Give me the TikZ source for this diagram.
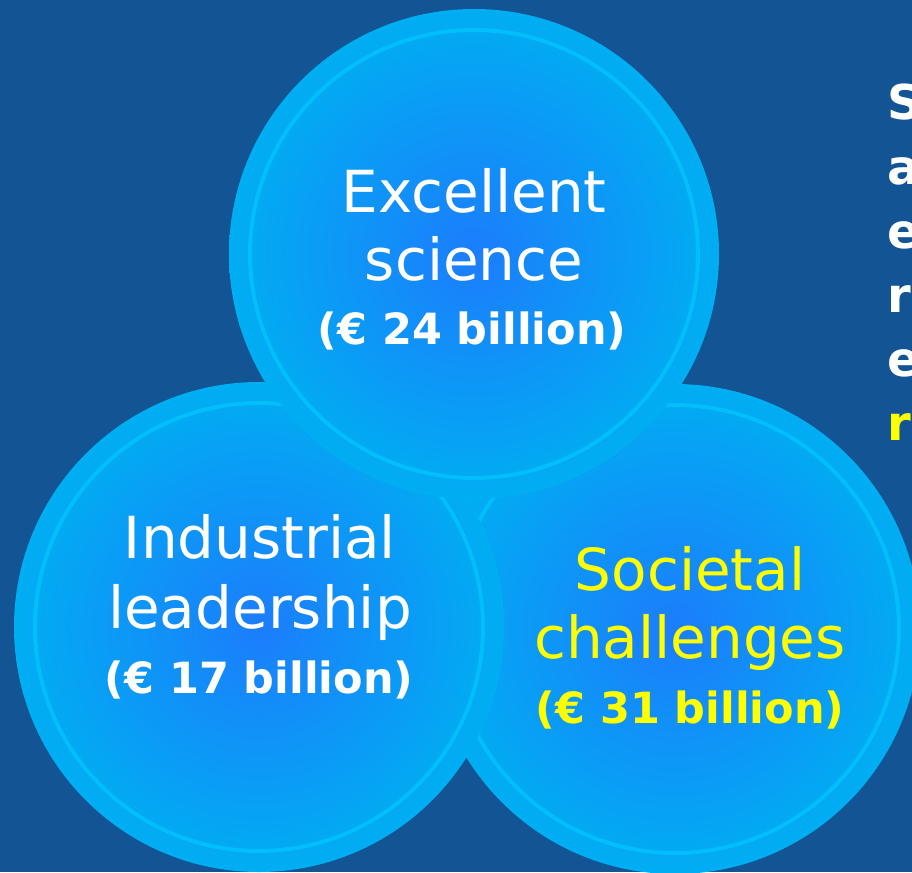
\documentclass[tikz,border=0pt]{standalone}
\usepackage{fontspec}
\setmainfont{DejaVu Sans}
\definecolor{bg}{RGB}{18,84,148}
\definecolor{ctr}{RGB}{28,125,252}
\definecolor{edgec}{RGB}{0,174,242}
\definecolor{rimc}{RGB}{0,200,255}
\definecolor{gold}{RGB}{255,255,0}
\begin{document}
\begin{tikzpicture}[x=1pt, y=-1pt, line join=round, line cap=round,
		bubble/.style={circle, minimum size=490pt, inner sep=0pt, shade, inner color=ctr, outer color=edgec},
		rim/.style={draw=rimc, line width=4pt, opacity=0.7},
		plain/.style={anchor=base, inner sep=0pt, text=white, font=\fontsize{58}{60}\selectfont},
		money/.style={anchor=base, inner sep=0pt, text=white, font=\fontsize{43}{45}\selectfont\bfseries},
		initial/.style={anchor=base west, inner sep=0pt, text=white, font=\fontsize{48}{50}\selectfont\bfseries}]
	\fill[bg] (0,0) rectangle (912,872);
	\useasboundingbox (0,0) rectangle (912,872);
	% the three pillars
	\foreach \n/\cx/\cy in {soc/675/629, ind/259/627, sci/474/254}{
		\node[bubble] (\n) at (\cx,\cy) {};
		\draw[rim] (\n.center) circle[radius=224pt];
	}
	\node[plain] (sciA) at (474,212) {Excellent};
	\node[plain] (sciB) at (474,280) {science};
	\node[money] (sciC) at (472,344) {(€ 24 billion)};
	\node[plain] (indA) at (260,558) {Industrial};
	\node[plain] (indB) at (260,628) {leadership};
	\node[money] (indC) at (259,693) {(€ 17 billion)};
	\node[plain, text=gold] (socA) at (690,590) {Societal};
	\node[plain, text=gold] (socB) at (690,658) {challenges};
	\node[money, text=gold] (socC) at (690,723) {(€ 31 billion)};
	% cut-off side text
	\foreach \c [count=\k from 0] in {S,a,e,r,e}{
		\node[initial] (side\k) at (887,120+64*\k) {\c};
	}
	\node[initial, text=gold] (side5) at (887,440) {r};
\end{tikzpicture}
\end{document}
